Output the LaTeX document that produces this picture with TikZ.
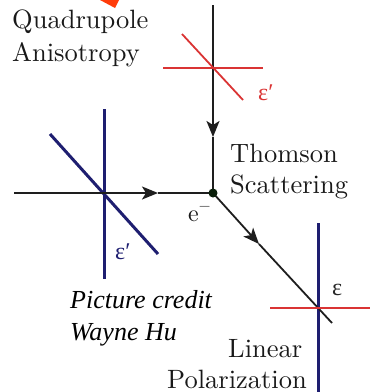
\documentclass[tikz,border=0pt]{standalone}
\usepackage{fontspec}
\newfontfamily\timesfont{Liberation Serif}
\newfontfamily\lmten{lmroman10-regular}[Extension=.otf]
\usetikzlibrary{arrows.meta}
\definecolor{pred}{RGB}{218,52,52}
\definecolor{pnavy}{RGB}{30,30,112}
\definecolor{pblack}{RGB}{30,30,30}
\definecolor{porange}{RGB}{255,60,10}
\tikzset{
  x=1pt, y=-1pt,
  ray/.style={draw=pblack, line width=1.8pt},
  rayarrow/.style={ray, -{Stealth[length=16pt,width=13pt,inset=4pt]}},
  redpol/.style={draw=pred, line width=1.8pt},
  navypol/.style={draw=pnavy, line width=3pt},
  lbl/.style={inner sep=0pt, anchor=base west, text=black!90, font=\lmten\fontsize{26.5}{31}\selectfont},
  credit/.style={inner sep=0pt, anchor=base west, text=black, font=\timesfont\itshape\fontsize{26}{31}\selectfont},
  eps/.style={inner sep=0pt, anchor=base west, font=\timesfont\fontsize{24}{28}\selectfont},
}
\begin{document}
\begin{tikzpicture}
\useasboundingbox (0,0) rectangle (370,392);
% top orange fragment
\fill[porange] (100,0) -- (119,0) -- (115,8) -- cycle;
% coordinates
\coordinate (top) at (213,5);
\coordinate (vmid) at (213,137);
\coordinate (e) at (213,193);
\coordinate (left) at (14,193);
\coordinate (hmid) at (158,193);
\coordinate (dmid) at (259,244);
\coordinate (dend) at (332,323);
% red cross (top)
\coordinate (rh1) at (163,68);
\coordinate (rh2) at (263,68);
\coordinate (rd1) at (182,34);
\coordinate (rd2) at (243,100);
% navy cross (left)
\coordinate (nv1) at (104,109);
\coordinate (nv2) at (104,279);
\coordinate (nd1) at (50,134);
\coordinate (nd2) at (158,254);
% bottom cross
\coordinate (bv1) at (318,223);
\coordinate (bv2) at (318,392);
\coordinate (bh1) at (270,308);
\coordinate (bh2) at (370,308);

% polarization lines under rays
\draw[navypol] (nv1) -- (nv2);
\draw[navypol] (nd1) -- (nd2);
\draw[navypol] (bv1) -- (bv2);

% rays
\draw[rayarrow] (top) -- (vmid);
\draw[ray] (vmid) -- (e);
\draw[rayarrow] (left) -- (hmid);
\draw[ray] (hmid) -- (e);
\draw[rayarrow] (e) -- (dmid);
\draw[ray] (dmid) -- (dend);

% red lines
\draw[redpol] (rh1) -- (rh2);
\draw[redpol] (rd1) -- (rd2);
\draw[redpol] (bh1) -- (bh2);

% electron
\node[circle, fill=pblack!80!green!40!black, inner sep=0pt, minimum size=9pt] (electron) at (e) {};

% labels
\node[lbl] (q1) at (12,28) {Quadrupole};
\node[lbl] (q2) at (12,61) {Anisotropy};
\node[lbl] (t1) at (230,162) {Thomson};
\node[lbl] (t2) at (230,193) {Scattering};
\node[lbl] (l1) at (228,357) {Linear};
\node[lbl] (l2) at (167,388) {Polarization};
\node[credit] (c1) at (70,308) {Picture credit};
\node[credit] (c2) at (70,340) {Wayne Hu};
\node[eps, text=pred] (epsr) at (258,100) {ε′};
\node[eps, text=pnavy] (epsn) at (115,259) {ε′};
\node[eps, text=black!85] (epsb) at (332,295) {ε};
\node[inner sep=0pt, anchor=base west, text=black!90, font=\lmten\fontsize{24}{28}\selectfont] (elab) at (188,221) {e\raisebox{0.45em}{\fontsize{15}{15}\selectfont −}};
\end{tikzpicture}
\end{document}
